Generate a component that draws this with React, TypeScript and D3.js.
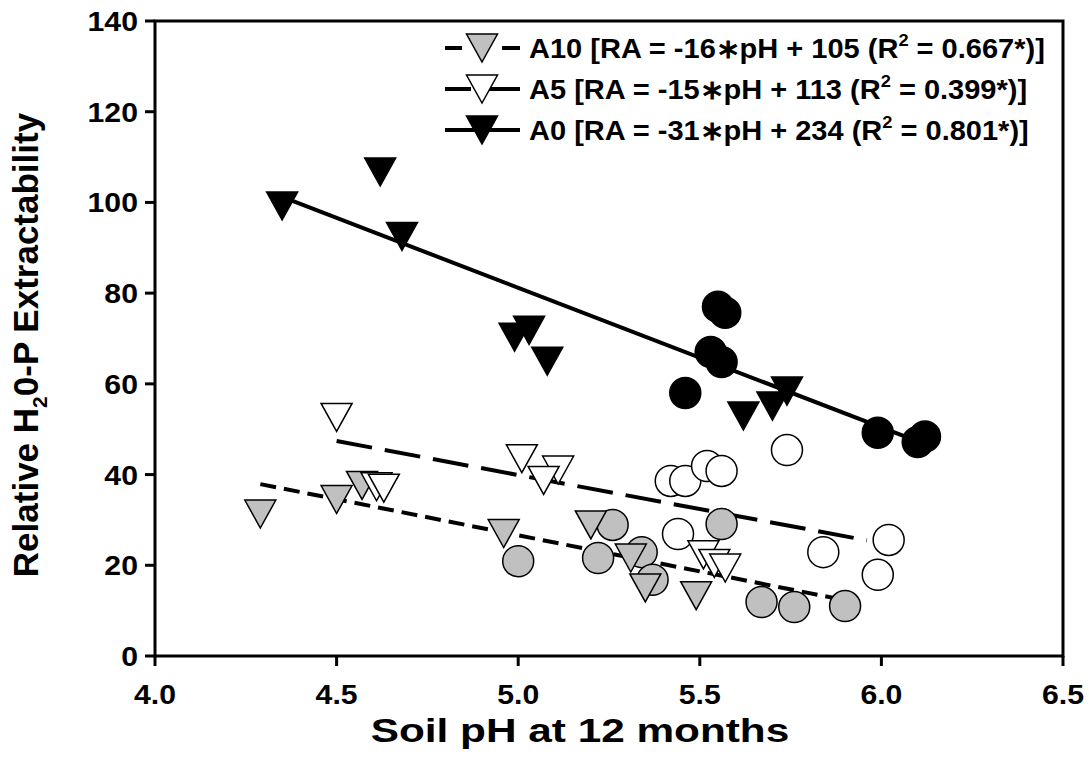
import React from "react";
import * as d3 from "d3";

// ---- data ----
const xTicks = [4.0, 4.5, 5.0, 5.5, 6.0, 6.5];
const yTicks = [0, 20, 40, 60, 80, 100, 120, 140];

// A0 (black) triangles and circles
const a0TriX = [4.35, 4.62, 4.68, 4.99, 5.03, 5.08, 5.62, 5.70, 5.74];
const a0TriY = [99.2, 106.7, 92.5, 70.3, 71.8, 65.0, 52.9, 55.1, 58.4];
const a0CircX = [5.55, 5.57, 5.53, 5.56, 5.46, 5.99, 6.10, 6.12];
const a0CircY = [77.0, 75.7, 67.0, 64.8, 58.0, 49.2, 47.2, 48.4];

// A5 (white) triangles and circles
const a5TriX = [4.50, 4.61, 4.63, 5.01, 5.11, 5.07, 5.51, 5.54, 5.57];
const a5TriY = [52.6, 37.3, 37.0, 43.5, 41.0, 38.7, 22.3, 20.4, 19.4];
const a5CircX = [5.74, 5.42, 5.46, 5.52, 5.56, 5.44, 5.84, 5.99, 6.02];
const a5CircY = [45.4, 38.6, 38.6, 41.9, 40.8, 26.9, 22.9, 17.9, 25.6];

// A10 (grey) triangles and circles
const a10TriX = [4.29, 4.50, 4.57, 4.96, 5.20, 5.31, 5.35, 5.49];
const a10TriY = [31.3, 34.5, 37.6, 27.0, 28.9, 21.6, 15.0, 13.3];
const a10CircX = [5.00, 5.22, 5.26, 5.34, 5.37, 5.56, 5.67, 5.76, 5.90];
const a10CircY = [20.9, 21.6, 28.9, 22.9, 16.8, 29.1, 11.9, 10.8, 11.0];

// regression lines (end points as drawn)
const a10FitX = [4.29, 5.9];
const a10FitY = [37.9, 12.3];
const a5FitX = [4.5, 5.96];
const a5FitY = [47.4, 25.5];
const a0FitX = [4.35, 6.12];
const a0FitY = [101.2, 46.7];

const W = 1089;
const H = 780;
const L = 155, R = 1063, T = 21, B = 656;

const x = d3.scaleLinear().domain([4.0, 6.5]).range([L, R]);
const y = d3.scaleLinear().domain([0, 140]).range([B, T]);

const TW = 31, TH = 28, CR = 15.5;
const triPath = `M${-TW / 2},${-TH / 2}L${TW / 2},${-TH / 2}L0,${TH / 2}Z`;

const FONT = "'Liberation Sans', Arial, sans-serif";
const GREY = "#c0c0c0";

const line = d3.line<[number, number]>().x((d) => x(d[0])).y((d) => y(d[1]));
const zip = (xs: number[], ys: number[]) => xs.map((v, i) => [v, ys[i]] as [number, number]);

function Tris({ xs, ys, fill }: { xs: number[]; ys: number[]; fill: string }) {
  return (
    <g>
      {xs.map((v, i) => (
        <path key={i} d={triPath} transform={`translate(${x(v)},${y(ys[i])})`} fill={fill} stroke="#000" strokeWidth={1.5} />
      ))}
    </g>
  );
}
function Circs({ xs, ys, fill }: { xs: number[]; ys: number[]; fill: string }) {
  return (
    <g>
      {xs.map((v, i) => (
        <circle key={i} cx={x(v)} cy={y(ys[i])} r={CR} fill={fill} stroke="#000" strokeWidth={1.5} />
      ))}
    </g>
  );
}

const legend = [
  { fill: GREY, dash: "17 40 18", name: "A10", eq: "[RA = -16\u2217pH + 105 (R", r2: " = 0.667*)]" },
  { fill: "#fff", dash: "26 6 50", name: "A5", eq: "[RA = -15\u2217pH + 113 (R", r2: " = 0.399*)]" },
  { fill: "#000", dash: "none", name: "A0", eq: "[RA = -31\u2217pH + 234 (R", r2: " = 0.801*)]" },
];

export default function App() {
  const fs = 27;
  const sx = 1.12;
  return (
    <svg width={W} height={H} style={{ position: "absolute", left: 0, top: 0, background: "#fff" }} fontFamily={FONT}>
      <rect x={0} y={0} width={W} height={H} fill="#fff" />
      {/* fit lines */}
      <path d={line(zip(a10FitX, a10FitY)) || ""} fill="none" stroke="#000" strokeWidth={4} strokeDasharray="16 8" />
      <path d={line(zip(a5FitX, a5FitY)) || ""} fill="none" stroke="#000" strokeWidth={4} strokeDasharray="36 13" />
      <path d={line(zip(a0FitX, a0FitY)) || ""} fill="none" stroke="#000" strokeWidth={4} />

      {/* markers */}
      <Circs xs={a0CircX} ys={a0CircY} fill="#000" />
      <Circs xs={a5CircX} ys={a5CircY} fill="#fff" />
      <Circs xs={a10CircX} ys={a10CircY} fill={GREY} />
      <Tris xs={a0TriX} ys={a0TriY} fill="#000" />
      <Tris xs={a10TriX} ys={a10TriY} fill={GREY} />
      <Tris xs={a5TriX} ys={a5TriY} fill="#fff" />

      {/* frame */}
      <rect x={L} y={T} width={R - L} height={B - T} fill="none" stroke="#000" strokeWidth={3} />

      {/* x ticks */}
      {xTicks.map((t) => (
        <g key={t}>
          <line x1={x(t)} x2={x(t)} y1={B} y2={B + 10} stroke="#000" strokeWidth={3} />
          <text transform={`translate(${x(t)},704) scale(${sx},1)`} textAnchor="middle" fontSize={fs} fontWeight="bold">
            {t.toFixed(1)}
          </text>
        </g>
      ))}
      {/* y ticks */}
      {yTicks.map((t) => (
        <g key={t}>
          <line x1={L - 10} x2={L} y1={y(t)} y2={y(t)} stroke="#000" strokeWidth={3} />
          <text transform={`translate(138,${y(t) + 10}) scale(${sx},1)`} textAnchor="end" fontSize={fs} fontWeight="bold">
            {t}
          </text>
        </g>
      ))}

      {/* axis titles */}
      <text transform="translate(580,742) scale(1.245,1)" textAnchor="middle" fontSize={34} fontWeight="bold">
        Soil pH at 12 months
      </text>
      <text transform="translate(38,345) rotate(-90)" textAnchor="middle" fontSize={35} fontWeight="bold">
        Relative H<tspan fontSize={21} dy={9}>2</tspan>
        <tspan dy={-9}>0-P Extractability</tspan>
      </text>

      {/* legend */}
      {legend.map((d, i) => {
        const cy = 48 + i * 41;
        return (
          <g key={d.name}>
            <line x1={445} x2={520} y1={cy} y2={cy} stroke="#000" strokeWidth={4} strokeDasharray={d.dash === "none" ? undefined : d.dash} />
            <path d={triPath} transform={`translate(482,${cy})`} fill={d.fill} stroke="#000" strokeWidth={1.5} />
            <text transform={`translate(529,${cy + 10}) scale(1.075,1)`} fontSize={27} fontWeight="bold">
              {d.name} {d.eq}
              <tspan fontSize={17} dy={-12}>2</tspan>
              <tspan dy={12}>{d.r2}</tspan>
            </text>
          </g>
        );
      })}
    </svg>
  );
}
